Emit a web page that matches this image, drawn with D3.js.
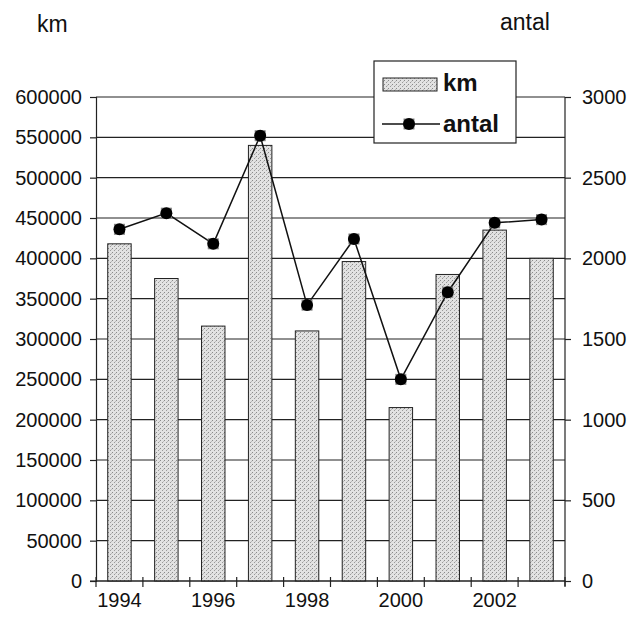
<!DOCTYPE html>
<html>
<head>
<meta charset="utf-8">
<script src="https://cdn.jsdelivr.net/npm/d3@7"></script>
<style>
  body { margin: 0; background: #fff; }
  svg text { font-family: Arial, "Liberation Sans", sans-serif; fill: #111; }
</style>
</head>
<body>
<svg id="chart" width="633" height="618"></svg>
<script>
var years = [1994, 1995, 1996, 1997, 1998, 1999, 2000, 2001, 2002, 2003];
var km = [418000, 375000, 316000, 540000, 310000, 396000, 215000, 380000, 435000, 400000];
var antal = [2180, 2280, 2090, 2760, 1710, 2120, 1250, 1790, 2220, 2240];
var kmTicks = [0, 50000, 100000, 150000, 200000, 250000, 300000, 350000, 400000, 450000, 500000, 550000, 600000];
var antalTicks = [0, 500, 1000, 1500, 2000, 2500, 3000];
var yearLabels = [1994, 1996, 1998, 2000, 2002];

function drawChart() {
    var plotLeft = 96, plotRight = 565, plotTop = 97, plotBottom = 581;

    var chart = d3.select("#chart");

    var x = d3.scaleBand()
        .domain(years)
        .range([plotLeft, plotRight])
        .paddingInner(0.5)
        .paddingOuter(0.25);

    var yL = d3.scaleLinear().domain([0, 600000]).range([plotBottom, plotTop]);
    var yR = d3.scaleLinear().domain([0, 3000]).range([plotBottom, plotTop]);

    // stipple pattern for the bars
    var pat = chart.append("defs").append("pattern")
        .attr("id", "stipple")
        .attr("patternUnits", "userSpaceOnUse")
        .attr("width", 4).attr("height", 4);
    pat.append("rect").attr("width", 4).attr("height", 4).attr("fill", "#e2e2e2");
    pat.append("rect").attr("x", 0).attr("y", 0).attr("width", 1).attr("height", 1).attr("fill", "#8a8a8a");
    pat.append("rect").attr("x", 2).attr("y", 2).attr("width", 1).attr("height", 1).attr("fill", "#9a9a9a");
    pat.append("rect").attr("x", 3).attr("y", 1).attr("width", 1).attr("height", 1).attr("fill", "#bbbbbb");

    // gridlines
    chart.append("g")
        .selectAll("line")
        .data(kmTicks)
        .enter().append("line")
        .attr("x1", plotLeft).attr("x2", plotRight)
        .attr("y1", function(d) { return yL(d); })
        .attr("y2", function(d) { return yL(d); })
        .attr("stroke", "#222")
        .attr("stroke-width", 1.2);

    // bars
    chart.append("g")
        .selectAll("rect")
        .data(years)
        .enter().append("rect")
        .attr("x", function(d) { return x(d); })
        .attr("y", function(d, i) { return yL(km[i]); })
        .attr("width", x.bandwidth())
        .attr("height", function(d, i) { return plotBottom - yL(km[i]); })
        .attr("fill", "url(#stipple)")
        .attr("stroke", "#222")
        .attr("stroke-width", 1);

    // left axis
    var leftAxis = chart.append("g")
        .attr("transform", "translate(" + plotLeft + ",0)")
        .call(d3.axisLeft(yL).tickValues(kmTicks).tickSize(6).tickPadding(8).tickFormat(d3.format("d")));
    leftAxis.selectAll("text").style("font-size", "20px");

    // right axis
    var rightAxis = chart.append("g")
        .attr("transform", "translate(" + plotRight + ",0)")
        .call(d3.axisRight(yR).tickValues(antalTicks).tickSize(6).tickPadding(11).tickFormat(d3.format("d")));
    rightAxis.selectAll("text").style("font-size", "20px");
    rightAxis.select(".domain").attr("d", "M0," + plotTop + "V" + (plotBottom + 5));

    chart.selectAll(".domain").attr("stroke", "#222").attr("stroke-width", 1.2);
    chart.selectAll(".tick line").attr("stroke", "#222").attr("stroke-width", 1.2);

    // bottom axis
    chart.append("line")
        .attr("x1", plotLeft - 6).attr("x2", plotRight)
        .attr("y1", plotBottom).attr("y2", plotBottom)
        .attr("stroke", "#222").attr("stroke-width", 1.2);

    var edges = d3.range(years.length + 1).map(function(i) { return plotLeft + i * x.step(); });
    chart.append("g")
        .selectAll("line")
        .data(edges)
        .enter().append("line")
        .attr("x1", function(d) { return d; }).attr("x2", function(d) { return d; })
        .attr("y1", plotBottom - 4).attr("y2", plotBottom + 6)
        .attr("stroke", "#222").attr("stroke-width", 1.2);

    chart.append("g")
        .selectAll("text")
        .data(yearLabels)
        .enter().append("text")
        .attr("x", function(d) { return x(d) + x.bandwidth() / 2; })
        .attr("y", 607)
        .attr("text-anchor", "middle")
        .style("font-size", "20px")
        .text(function(d) { return d; });

    // line
    var line = d3.line()
        .x(function(d, i) { return x(years[i]) + x.bandwidth() / 2; })
        .y(function(d) { return yR(d); });

    chart.append("path")
        .datum(antal)
        .attr("d", line)
        .attr("fill", "none")
        .attr("stroke", "#111")
        .attr("stroke-width", 1.5);

    function marker(g) {
        g.append("rect")
            .attr("x", -5).attr("y", -5)
            .attr("width", 10).attr("height", 10)
            .attr("fill", "#444")
            .attr("stroke", "#888")
            .attr("stroke-width", 1);
        g.append("circle")
            .attr("r", 6)
            .attr("fill", "#000");
    }

    chart.append("g")
        .selectAll("g")
        .data(antal)
        .enter().append("g")
        .attr("transform", function(d, i) {
            return "translate(" + (x(years[i]) + x.bandwidth() / 2) + "," + yR(d) + ")";
        })
        .call(marker);

    // axis titles
    chart.append("text")
        .attr("x", 37).attr("y", 32)
        .style("font-size", "23px")
        .text("km");

    chart.append("text")
        .attr("x", 500).attr("y", 30)
        .style("font-size", "23px")
        .text("antal");

    // legend
    var legend = chart.append("g");
    legend.append("rect")
        .attr("x", 374).attr("y", 61)
        .attr("width", 142).attr("height", 82)
        .attr("fill", "#fff")
        .attr("stroke", "#222")
        .attr("stroke-width", 1.2);
    legend.append("rect")
        .attr("x", 383).attr("y", 78)
        .attr("width", 54).attr("height", 13)
        .attr("fill", "url(#stipple)")
        .attr("stroke", "#222");
    legend.append("text")
        .attr("x", 443).attr("y", 91)
        .style("font-size", "24px")
        .style("font-weight", "bold")
        .text("km");
    legend.append("line")
        .attr("x1", 382).attr("x2", 440)
        .attr("y1", 124).attr("y2", 124)
        .attr("stroke", "#111").attr("stroke-width", 1.5);
    legend.append("g")
        .attr("transform", "translate(409,124)")
        .call(marker);
    legend.append("text")
        .attr("x", 443).attr("y", 132)
        .style("font-size", "24px")
        .style("font-weight", "bold")
        .text("antal");
}

drawChart();
</script>
</body>
</html>
